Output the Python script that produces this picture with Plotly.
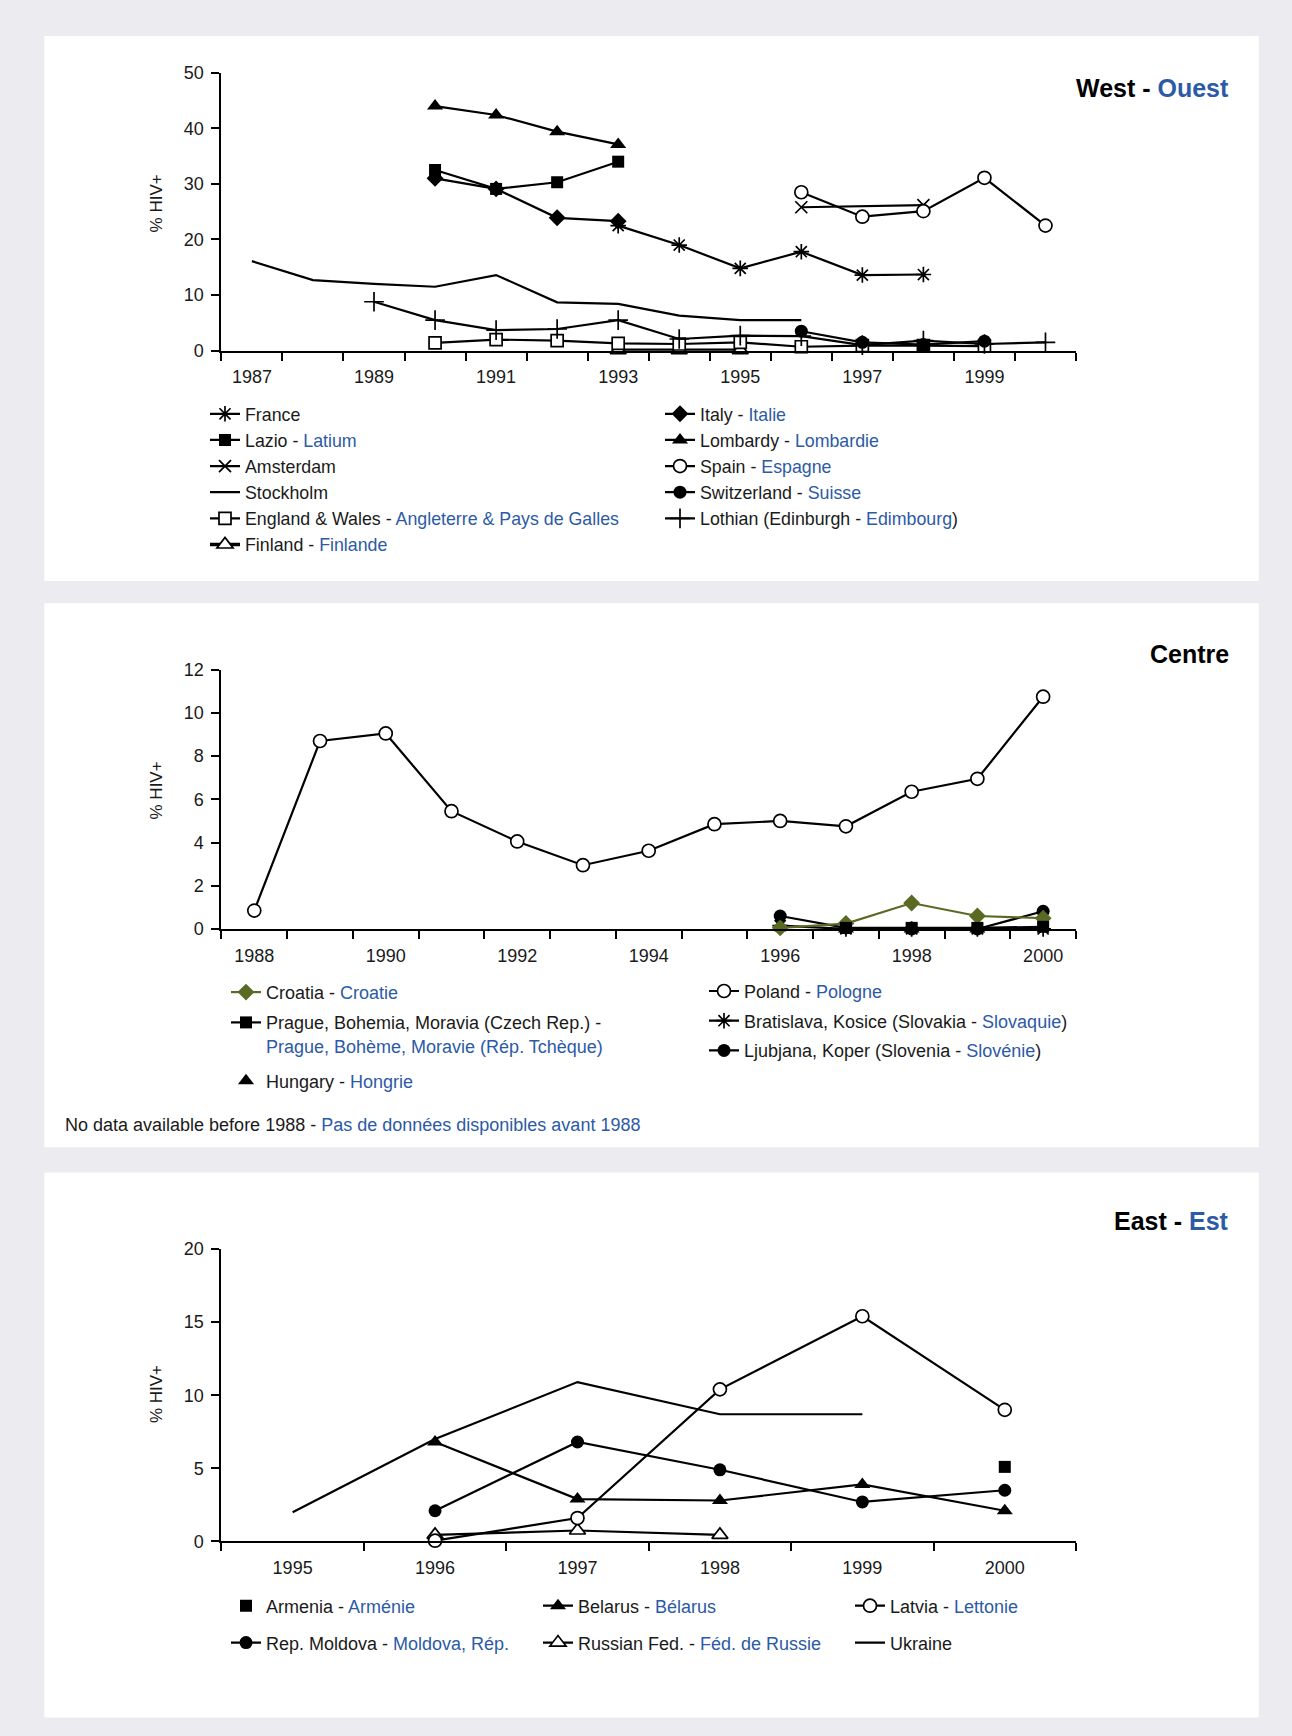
import plotly.graph_objects as go

W, H = 1292, 1736
FONT = "Liberation Sans, Arial, Helvetica, sans-serif"
BLUE = "#2c5aa6"
INK = "#1a1a1a"
OLIVE = "#5a6a23"

# vertical calibration of the page capture
Y_OFF, Y_SC = 9.3, 0.988

def fx(p):
    return p / W

def plot_px(p):
    return (p - Y_OFF) / Y_SC

def fy(p):
    return 1 - plot_px(p) / H

def bi(en, fr=None, pre="", post=""):
    if fr is None:
        return en
    return f"{en} - {pre}<span style='color:{BLUE}'>{fr}</span>{post}"

# ---------------- DATA ----------------
# West - Ouest
west_years = list(range(1987, 2001))
france_x = [1993, 1994, 1995, 1996, 1997, 1998]
france_y = [22.5, 19.0, 14.8, 17.8, 13.6, 13.7]
italy_x = [1990, 1991, 1992, 1993]
italy_y = [31.0, 29.1, 23.9, 23.3]
lazio_x = [1990, 1991, 1992, 1993, 1994, 1995, 1996, 1997, 1998]
lazio_y = [32.5, 29.1, 30.3, 34.0, None, None, None, None, 0.9]
lombardy_x = [1990, 1991, 1992, 1993]
lombardy_y = [44.0, 42.4, 39.4, 37.1]
amsterdam_x = [1996, 1998]
amsterdam_y = [25.8, 26.2]
spain_x = [1996, 1997, 1998, 1999, 2000]
spain_y = [28.5, 24.1, 25.1, 31.1, 22.5]
stockholm_x = [1987, 1988, 1989, 1990, 1991, 1992, 1993, 1994, 1995, 1996]
stockholm_y = [16.1, 12.7, 12.0, 11.5, 13.6, 8.7, 8.4, 6.3, 5.5, 5.5]
switzerland_x = [1996, 1997, 1998, 1999]
switzerland_y = [3.5, 1.5, 1.1, 1.7]
england_x = [1990, 1991, 1992, 1993, 1994, 1995, 1996, 1997, 1998, 1999]
england_y = [1.4, 2.0, 1.8, 1.3, 1.2, 1.5, 0.7, 0.9, 0.9, 0.8]
lothian_x = [1989, 1990, 1991, 1992, 1993, 1994, 1995, 1996, 1997, 1998, 1999, 2000]
lothian_y = [8.8, 5.5, 3.7, 3.9, 5.5, 2.1, 2.7, 2.6, 1.0, 1.8, 1.2, 1.5]
finland_x = [1993, 1994, 1995]
finland_y = [0.1, 0.1, 0.1]
west_ticks = [1987, 1989, 1991, 1993, 1995, 1997, 1999]

# Centre
centre_years = list(range(1988, 2001))
poland_y = [0.85, 8.7, 9.05, 5.45, 4.05, 2.95, 3.62, 4.85, 5.0, 4.75, 6.35, 6.95, 10.75]
croatia_x = [1996, 1997, 1998, 1999, 2000]
croatia_y = [0.05, 0.25, 1.2, 0.6, 0.5]
prague_x = [1997, 1998, 1999, 2000]
prague_y = [0.05, 0.05, 0.05, 0.1]
hungary_x = [1997, 1998, 1999]
hungary_y = [0.0, 0.0, 0.0]
bratislava_x = [1996, 1997, 1998, 1999, 2000]
bratislava_y = [0.15, 0.0, 0.0, 0.0, 0.0]
ljubljana_x = [1996, 1997, 1998, 1999, 2000]
ljubljana_y = [0.6, 0.05, 0.0, 0.0, 0.82]
centre_ticks = [1988, 1990, 1992, 1994, 1996, 1998, 2000]

# East - Est
east_years = list(range(1995, 2001))
armenia_x = [2000]
armenia_y = [5.1]
belarus_x = [1996, 1997, 1998, 1999, 2000]
belarus_y = [6.8, 2.9, 2.8, 3.9, 2.1]
latvia_x = [1996, 1997, 1998, 1999, 2000]
latvia_y = [0.05, 1.6, 10.4, 15.4, 9.0]
moldova_x = [1996, 1997, 1998, 1999, 2000]
moldova_y = [2.1, 6.8, 4.9, 2.7, 3.5]
russia_x = [1996, 1997, 1998]
russia_y = [0.45, 0.75, 0.45]
ukraine_x = [1995, 1996, 1997, 1998, 1999]
ukraine_y = [2.0, 7.0, 10.9, 8.7, 8.7]

# ---------------- FIGURE ----------------
fig = go.Figure()

MK = {
    "asterisk": dict(symbol="asterisk-open", size=13, color="black", line=dict(color="black", width=1.7)),
    "x": dict(symbol="x-thin-open", size=12, color="black", line=dict(color="black", width=1.7)),
    "cross": dict(symbol="cross-thin-open", size=14, color="black", line=dict(color="black", width=1.7)),
    "diamond": dict(symbol="diamond", size=13, color="black", line=dict(width=0)),
    "square": dict(symbol="square", size=12, color="black", line=dict(width=0)),
    "triangle": dict(symbol="triangle-up", size=14, color="black", line=dict(width=0)),
    "circle": dict(symbol="circle", size=13, color="black", line=dict(width=0)),
    "ocircle": dict(symbol="circle", size=13, color="white", line=dict(color="black", width=1.7)),
    "osquare": dict(symbol="square", size=12, color="white", line=dict(color="black", width=1.7)),
    "otriangle": dict(symbol="triangle-up", size=14, color="white", line=dict(color="black", width=1.7)),
    "odiamond": dict(symbol="diamond", size=13, color=OLIVE, line=dict(width=0)),
}


def add(x, y, name, marker, ax, legend, mode="lines+markers", lw=2.2, color="black"):
    kw = {}
    if marker is not None:
        kw["marker"] = MK[marker]
    fig.add_trace(go.Scatter(
        x=x, y=y, name=name, mode=mode,
        line=dict(color=color, width=lw),
        xaxis="x" if ax == 1 else f"x{ax}",
        yaxis="y" if ax == 1 else f"y{ax}",
        legend=legend, legendgroup=name, cliponaxis=False,
        connectgaps=False, hoverinfo="x+y+name", **kw))

# West
add(stockholm_x, stockholm_y, "Stockholm", None, 1, "legend", mode="lines")
add(finland_x, finland_y, bi("Finland", "Finlande"), "otriangle", 1, "legend", lw=3.4)
add(england_x, england_y, bi("England &amp; Wales", "Angleterre &amp; Pays de Galles"), "osquare", 1, "legend")
add(lothian_x, lothian_y, "Lothian (Edinburgh - <span style='color:%s'>Edimbourg</span>)" % BLUE, "cross", 1, "legend2")
add(switzerland_x, switzerland_y, bi("Switzerland", "Suisse"), "circle", 1, "legend2")
add(france_x, france_y, "France", "asterisk", 1, "legend")
add(italy_x, italy_y, bi("Italy", "Italie"), "diamond", 1, "legend2")
add(lazio_x, lazio_y, bi("Lazio", "Latium"), "square", 1, "legend")
add(lombardy_x, lombardy_y, bi("Lombardy", "Lombardie"), "triangle", 1, "legend2")
add(amsterdam_x, amsterdam_y, "Amsterdam", "x", 1, "legend")
add(spain_x, spain_y, bi("Spain", "Espagne"), "ocircle", 1, "legend2")

# Centre
add(centre_years, poland_y, bi("Poland", "Pologne"), "ocircle", 2, "legend5")
add(bratislava_x, bratislava_y, "Bratislava, Kosice (Slovakia - <span style='color:%s'>Slovaquie</span>)" % BLUE, "asterisk", 2, "legend5")
add(ljubljana_x, ljubljana_y, "Ljubjana, Koper (Slovenia - <span style='color:%s'>Slovénie</span>)" % BLUE, "circle", 2, "legend5")
add(croatia_x, croatia_y, bi("Croatia", "Croatie"), "odiamond", 2, "legend3", color=OLIVE)
add(prague_x, prague_y,
    "Prague, Bohemia, Moravia (Czech Rep.) -<br><span style='color:%s'>Prague, Bohème, Moravie (Rép. Tchèque)</span>" % BLUE,
    "square", 2, "legend3")
add(hungary_x, hungary_y, bi("Hungary", "Hongrie"), "triangle", 2, "legend4", mode="markers")

# East
add(ukraine_x, ukraine_y, "Ukraine", None, 3, "legend8", mode="lines")
add(russia_x, russia_y, bi("Russian Fed.", "Féd. de Russie"), "otriangle", 3, "legend7")
add(belarus_x, belarus_y, bi("Belarus", "Bélarus"), "triangle", 3, "legend7")
add(moldova_x, moldova_y, bi("Rep. Moldova", "Moldova, Rép."), "circle", 3, "legend6")
add(latvia_x, latvia_y, bi("Latvia", "Lettonie"), "ocircle", 3, "legend8")
add(armenia_x, armenia_y, bi("Armenia", "Arménie"), "square", 3, "legend6", mode="markers")

# ---------------- AXES ----------------
AX_L, AX_R = 221.4, 1076.0
TICKFONT = dict(family=FONT, size=18, color=INK)


def xaxis(years, tickvals, anchor):
    return dict(
        domain=[fx(AX_L), fx(AX_R)], anchor=anchor, type="linear",
        range=[years[0] - 0.5, years[-1] + 0.5],
        tickmode="array", tickvals=tickvals, ticktext=[str(t) for t in tickvals],
        ticks="outside", ticklen=0, tickcolor="black", ticklabelstandoff=9,
        minor=dict(tickmode="linear", tick0=years[0] - 0.5, dtick=1, ticks="outside",
                   ticklen=8, tickwidth=1.5, tickcolor="black", showgrid=False),
        showline=True, linecolor="black", linewidth=2, showgrid=False, zeroline=False,
        tickfont=TICKFONT, fixedrange=True)


def yaxis(top_px, bot_px, rng, dtick, anchor):
    return dict(
        domain=[fy(bot_px), fy(top_px)], anchor=anchor, range=rng,
        tickmode="linear", tick0=0, dtick=dtick,
        ticks="outside", ticklen=8, tickwidth=1.5, tickcolor="black", ticklabelstandoff=4,
        showline=True, linecolor="black", linewidth=2, showgrid=False, zeroline=False,
        tickfont=TICKFONT, fixedrange=True)


leg_common = dict(bgcolor="rgba(0,0,0,0)", borderwidth=0,
                  xanchor="left", yanchor="top", traceorder="grouped",
                  itemwidth=30, orientation="v", itemclick=False, itemdoubleclick=False)

def leg(xp, row_ref, gap, size=18, **extra):
    # row_ref: vertical centre of the first legend row (reference pixels)
    d = dict(leg_common)
    top = plot_px(row_ref) - 19.5
    d.update(x=fx(xp), y=1 - top / H, tracegroupgap=gap,
             font=dict(family=FONT, size=size, color=INK))
    d.update(extra)
    return d

# ---------------- PANELS & TEXT ----------------
panels = [(35.4, 580.1), (602.3, 1145.9), (1171.3, 1716.0)]
shapes = [dict(type="rect", xref="paper", yref="paper", layer="below",
               x0=fx(44.3), x1=fx(1258.8), y0=fy(b), y1=fy(t),
               fillcolor="white", line=dict(width=0)) for t, b in panels]

TITLE_FONT = dict(family=FONT, size=25, color="black")
LAB_FONT = dict(family=FONT, size=18, color=INK)
annotations = [
    dict(text="<b>West - <span style='color:%s'>Ouest</span></b>" % BLUE, x=fx(1231), y=fy(87.5),
         xanchor="right", yanchor="middle", font=TITLE_FONT),
    dict(text="<b>Centre</b>", x=fx(1231), y=fy(653.2), xanchor="right", yanchor="middle", font=TITLE_FONT),
    dict(text="<b>East - <span style='color:%s'>Est</span></b>" % BLUE, x=fx(1231), y=fy(1220.0),
         xanchor="right", yanchor="middle", font=TITLE_FONT),
    dict(text="% HIV+", x=fx(156), y=fy(202.6), textangle=-90, xanchor="center", yanchor="middle",
         font=dict(family=FONT, size=17, color=INK)),
    dict(text="% HIV+", x=fx(156), y=fy(789.4), textangle=-90, xanchor="center", yanchor="middle",
         font=dict(family=FONT, size=17, color=INK)),
    dict(text="% HIV+", x=fx(156), y=fy(1392.7), textangle=-90, xanchor="center", yanchor="middle",
         font=dict(family=FONT, size=17, color=INK)),
    dict(text="No data available before 1988 - <span style='color:%s'>Pas de données disponibles avant 1988</span>" % BLUE,
         x=fx(63), y=fy(1123.7), xanchor="left", yanchor="middle", font=LAB_FONT),
]
for a in annotations:
    a.update(xref="paper", yref="paper", showarrow=False)

fig.update_layout(
    width=W, height=H, autosize=False,
    margin=dict(l=0, r=0, t=0, b=0, pad=0),
    paper_bgcolor="#ebebf0", plot_bgcolor="rgba(0,0,0,0)",
    font=dict(family=FONT, size=18, color=INK),
    showlegend=True,
    xaxis=xaxis(west_years, west_ticks, "y"),
    yaxis=yaxis(72.0, 349.8, [0, 50], 10, "x"),
    xaxis2=xaxis(centre_years, centre_ticks, "y2"),
    yaxis2=yaxis(668.7, 927.8, [0, 12], 2, "x2"),
    xaxis3=xaxis(east_years, east_years, "y3"),
    yaxis3=yaxis(1247.7, 1540.0, [0, 20], 5, "x3"),
    legend=leg(205, 414.1, 0, size=17.8),
    legend2=leg(660, 414.1, 0, size=17.8),
    legend3=leg(226, 992.0, 3.9, valign="top"),
    legend4=leg(226, 1080.6, 0),
    legend5=leg(704, 990.9, 3.3),
    legend6=leg(226, 1605.3, 10.5),
    legend7=leg(538, 1605.3, 10.5),
    legend8=leg(850, 1605.3, 10.5),
    shapes=shapes,
    annotations=annotations,
    hovermode="closest",
)

order = {
    "France": 1, "Lazio": 2, "Amsterdam": 3, "Stockholm": 4, "England": 5, "Finland": 6,
    "Italy": 1, "Lombardy": 2, "Spain": 3, "Switzerland": 4, "Lothian": 5,
    "Croatia": 1, "Prague": 2, "Hungary": 1,
    "Poland": 1, "Bratislava": 2, "Ljubjana": 3,
    "Armenia": 1, "Rep. Moldova": 2, "Belarus": 1, "Russian": 2, "Latvia": 1, "Ukraine": 2,
}
for tr in fig.data:
    for k, v in order.items():
        if tr.name.startswith(k):
            tr.legendrank = v
            break

fig.write_html("out.html", include_plotlyjs=True, full_html=True,
               config={"displayModeBar": False},
               post_script="document.body.style.margin='0';document.body.style.overflow='hidden';")
